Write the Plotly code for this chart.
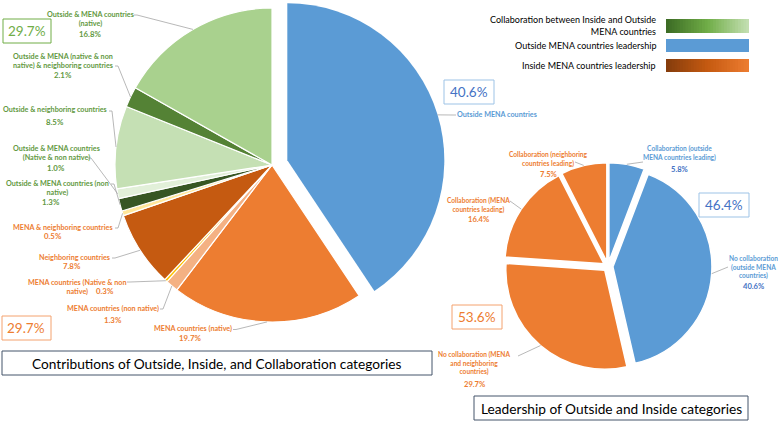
import math
import plotly.graph_objects as go

W, H = 778, 421

# ---------------- data ----------------
left_labels = [
    "Outside MENA countries",
    "MENA countries (native)",
    "MENA countries (non native)",
    "MENA countries (Native & non native)",
    "Neighboring countries",
    "MENA & neighboring countries",
    "Outside & MENA countries (non native)",
    "Outside & MENA countries (Native & non native)",
    "Outside & neighboring countries",
    "Outside & MENA (native & non native) & neighboring countries",
    "Outside & MENA countries (native)",
]
left_values = [40.6, 19.7, 1.3, 0.3, 7.8, 0.5, 1.3, 1.0, 8.5, 2.1, 16.8]
left_colors = ["#5B9BD5", "#ED7D31", "#F4B183", "#FFC000", "#C55A11", "#FFE699",
               "#375623", "#E2F0D9", "#C5E0B4", "#548235", "#A9D18E"]

right_labels = [
    "Collaboration (outside MENA countries leading)",
    "No collaboration (outside MENA countries)",
    "No collaboration (MENA and neighboring countries)",
    "Collaboration (MENA countries leading)",
    "Collaboration (neighboring countries leading)",
]
right_values = [5.8, 40.6, 29.7, 16.4, 7.5]
right_colors = ["#5B9BD5", "#5B9BD5", "#ED7D31", "#ED7D31", "#ED7D31"]

group_totals = {"collab_left": 29.7, "inside_left": 29.7, "outside_left": 40.6,
                "outside_right": 46.4, "inside_right": 53.6}

legend_items = ["Collaboration between Inside and Outside<br>MENA countries",
                "Outside MENA countries leadership",
                "Inside MENA countries leadership"]

title_left = "Contributions of Outside, Inside, and Collaboration categories"
title_right = "Leadership of Outside and Inside categories"

# ---------------- layout geometry (pixels) ----------------
L_CX, L_CY, L_R = 272, 165, 157
BLUE_PULL_PX = 16
R_CX, R_CY, R_R = 608, 266.5, 99
R_PULL = 0.05

FONT = "Lato"
GREEN_T = "#63993F"
ORANGE_T = "#ED7D31"
BLUE_T = "#5B9BD5"
DBLUE_T = "#4472C4"
LINE_C = "#A6A6A6"


def fx(x):
    return x / W


def fy(y):
    return 1 - y / H


def bisector(values, i):
    tot = sum(values)
    frac = (sum(values[:i]) + values[i] / 2) / tot
    th = 2 * math.pi * frac
    return math.sin(th), -math.cos(th)


def edge_point(values, i, cx, cy, r, pull_px=0.0):
    dx, dy = bisector(values, i)
    return cx + (r + pull_px) * dx, cy + (r + pull_px) * dy


fig = go.Figure()

# base left pie (blue slice hidden: drawn exploded by a second trace)
base_cols = ["rgba(0,0,0,0)"] + left_colors[1:]
base_lw = [0] + [1.2] * (len(left_values) - 1)
fig.add_trace(go.Pie(
    values=left_values, labels=left_labels, sort=False, direction="clockwise",
    rotation=0, textinfo="none", hoverinfo="label+percent", showlegend=False,
    marker=dict(colors=base_cols, line=dict(color="white", width=base_lw)),
    domain=dict(x=[fx(L_CX - L_R), fx(L_CX + L_R)],
                y=[fy(L_CY + L_R), fy(L_CY - L_R)]),
))

bdx, bdy = bisector(left_values, 0)
B_CX, B_CY = L_CX + BLUE_PULL_PX * bdx, L_CY + BLUE_PULL_PX * bdy
blue_cols = [left_colors[0]] + ["rgba(0,0,0,0)"] * (len(left_values) - 1)
fig.add_trace(go.Pie(
    values=left_values, labels=left_labels, sort=False, direction="clockwise",
    rotation=0, textinfo="none", hoverinfo="label+percent", showlegend=False,
    marker=dict(colors=blue_cols, line=dict(color="white", width=0)),
    domain=dict(x=[fx(B_CX - L_R), fx(B_CX + L_R)],
                y=[fy(B_CY + L_R), fy(B_CY - L_R)]),
))

half = R_R * (1 + R_PULL)
fig.add_trace(go.Pie(
    values=right_values, labels=right_labels, sort=False, direction="clockwise",
    rotation=0, textinfo="none", hoverinfo="label+percent", showlegend=False,
    pull=[R_PULL] * len(right_values),
    marker=dict(colors=right_colors, line=dict(color="white", width=1.5)),
    domain=dict(x=[fx(R_CX - half), fx(R_CX + half)],
                y=[fy(R_CY + half), fy(R_CY - half)]),
))

shapes = []
annotations = []


def text(x, y, s, size, color, bold=False, xanchor="center", yanchor="middle", align="center"):
    if bold:
        s = "<b>" + s.replace("<br>", "</b><br><b>") + "</b>"
    annotations.append(dict(
        x=fx(x), y=fy(y), xref="paper", yref="paper", text=s, showarrow=False,
        xanchor=xanchor, yanchor=yanchor, align=align,
        font=dict(family=FONT, size=size, color=color)))


def line(x0, y0, x1, y1, color=LINE_C, w=0.8):
    shapes.append(dict(type="line", xref="paper", yref="paper",
                       x0=fx(x0), y0=fy(y0), x1=fx(x1), y1=fy(y1),
                       line=dict(color=color, width=w)))


def rect(x0, y0, x1, y1, color, w=1, fill="white"):
    shapes.append(dict(type="rect", xref="paper", yref="paper",
                       x0=fx(x0), y0=fy(y0), x1=fx(x1), y1=fy(y1),
                       line=dict(color=color, width=w), fillcolor=fill, layer="above"))


LAB = 7.2
SP = LAB * 1.3

# label placements for the left pie: (slice index, lines, cx, first line y, pct x, pct y, attach x, attach y, color)
left_place = [
    (10, ["Outside & MENA countries", "(native)"], 90, 14, 90, 34, 134, 15, GREEN_T),
    (9, ["Outside & MENA (native & non", "native) & neighboring countries"], 63, 56, 63, 75, 115, 66, GREEN_T),
    (8, ["Outside & neighboring countries"], 55, 110, 55, 122, 109, 111, GREEN_T),
    (7, ["Outside & MENA countries", "(Native & non native)"], 56, 148, 56, 168, 88, 158, GREEN_T),
    (6, ["Outside & MENA countries (non", "native)"], 57, 183, 51, 202, 111, 184, GREEN_T),
    (5, ["MENA & neighboring countries"], 63, 227, 53, 236, 115, 228, ORANGE_T),
    (4, ["Neighboring countries"], 74, 257, 72, 266, 112, 258, ORANGE_T),
    (3, ["MENA countries (Native & non", "native)"], 77, 282, 105, 291, 127, 282, ORANGE_T),
    (2, ["MENA countries (non native)"], 113, 308, 113, 320, 160, 309, ORANGE_T),
    (1, ["MENA countries (native)"], 193, 328.5, 190, 338, 233, 329.5, ORANGE_T),
]
for idx, lines_, cx, y1, pxx, pyy, ax, ay, col in left_place:
    n = len(lines_)
    text(cx, y1 + (n - 1) * SP / 2, "<br>".join(lines_), LAB, col, bold=True)
    text(pxx, pyy, f"{left_values[idx]:.1f}%", LAB + 0.6, col, bold=True)
    ex, ey = edge_point(left_values, idx, L_CX, L_CY, L_R)
    line(ax, ay, ax + 3, ay)
    line(ax + 3, ay, ex, ey)

# blue label
text(497, 114, "Outside MENA countries", LAB, BLUE_T, bold=True)
ex, ey = edge_point(left_values, 0, B_CX, B_CY, L_R)
line(456, 115, 453, 115)
line(453, 115, ex, ey)

# right pie labels
right_place = [
    (0, ["Collaboration (outside", "MENA countries leading)"], 679, 149, 679, 169, 643, 162, BLUE_T, DBLUE_T),
    (1, ["No collaboration", "(outside MENA", "countries)"], 753, 258, 753, 286, 728, 267, BLUE_T, DBLUE_T),
    (2, ["No collaboration (MENA", "and neighboring", "countries)"], 474, 354, 474, 384, 518, 356, ORANGE_T, ORANGE_T),
    (3, ["Collaboration (MENA", "countries leading)"], 478, 201, 478, 219, 510, 201, ORANGE_T, ORANGE_T),
    (4, ["Collaboration (neighboring", "countries leading)"], 548, 155, 548, 174, 575, 162, ORANGE_T, ORANGE_T),
]
RLAB = 6.6
RSP = RLAB * 1.3
for idx, lines_, cx, y1, pxx, pyy, ax, ay, col, pcol in right_place:
    n = len(lines_)
    text(cx, y1 + (n - 1) * RSP / 2, "<br>".join(lines_), RLAB, col, bold=True)
    text(pxx, pyy, f"{right_values[idx]:.1f}%", RLAB + 1, pcol, bold=True)
    ex, ey = edge_point(right_values, idx, R_CX, R_CY, R_R, pull_px=R_R * R_PULL)
    line(ax, ay, ex, ey)

# percentage boxes
BIG = 13.5
boxes = [
    (3, 19, 51, 43, "#70AD47", "#70AD47", group_totals["collab_left"]),
    (2, 316, 51, 340, "#F4A26E", "#ED7D31", group_totals["inside_left"]),
    (444, 80, 494, 104, "#9DC3E6", DBLUE_T, group_totals["outside_left"]),
    (699, 193, 749, 217, "#9DC3E6", DBLUE_T, group_totals["outside_right"]),
    (452, 305, 502, 329, "#F4A26E", "#ED7D31", group_totals["inside_right"]),
]
for x0, y0, x1, y1, bc, tc, v in boxes:
    rect(x0, y0, x1, y1, bc, w=1)
    text((x0 + x1) / 2, (y0 + y1) / 2, f"{v:.1f}%", BIG, tc)

# title boxes
rect(2, 351, 432, 375, "#44546A", w=1)
text(217, 363.5, title_left, 13.7, "#000000")
rect(474, 396, 748, 420, "#44546A", w=1)
text(611, 408.5, title_right, 13.7, "#000000")

# legend
def hex2rgb(h):
    h = h.lstrip("#")
    return tuple(int(h[i:i + 2], 16) for i in (0, 2, 4))


def grad_bar(x0, y0, x1, y1, stops, n=30):
    if len(set(stops)) == 1:
        shapes.append(dict(type="rect", xref="paper", yref="paper",
                           x0=fx(x0), x1=fx(x1), y0=fy(y1), y1=fy(y0),
                           line=dict(width=0), fillcolor=stops[0]))
        return
    step = (x1 - x0) / n
    for k in range(n):
        t = (k + 0.5) / n
        seg = min(int(t * (len(stops) - 1)), len(stops) - 2)
        lt = t * (len(stops) - 1) - seg
        a, b = hex2rgb(stops[seg]), hex2rgb(stops[seg + 1])
        c = tuple(round(a[j] + (b[j] - a[j]) * lt) for j in range(3))
        xe = x1 if k == n - 1 else x0 + (k + 1) * step + 1.0
        shapes.append(dict(type="rect", xref="paper", yref="paper",
                           x0=fx(x0 + k * step), x1=fx(xe),
                           y0=fy(y1), y1=fy(y0), line=dict(width=0),
                           fillcolor="rgb(%d,%d,%d)" % c))


grad_bar(666, 19, 749, 33, ["#3B6A24", "#70AD47", "#C5E0B4"])
grad_bar(666, 39, 749, 52, ["#5B9BD5", "#5B9BD5"])
grad_bar(666, 59, 749, 72, ["#843C0C", "#C55A11", "#ED7D31"])
LEG = 9.0
text(658, 26, legend_items[0], LEG, "#000000", xanchor="right", align="right")
text(658, 45.5, legend_items[1], LEG, "#000000", xanchor="right", align="right")
text(658, 66, legend_items[2], LEG, "#000000", xanchor="right", align="right")

fig.update_layout(
    width=W, height=H, autosize=False,
    margin=dict(l=0, r=0, t=0, b=0),
    paper_bgcolor="white", plot_bgcolor="white",
    shapes=shapes, annotations=annotations,
    font=dict(family=FONT),
)

fig.write_html("out.html", config={"displayModeBar": False},
               post_script="document.body.style.margin='0';"
                           "document.body.style.overflow='hidden';")
